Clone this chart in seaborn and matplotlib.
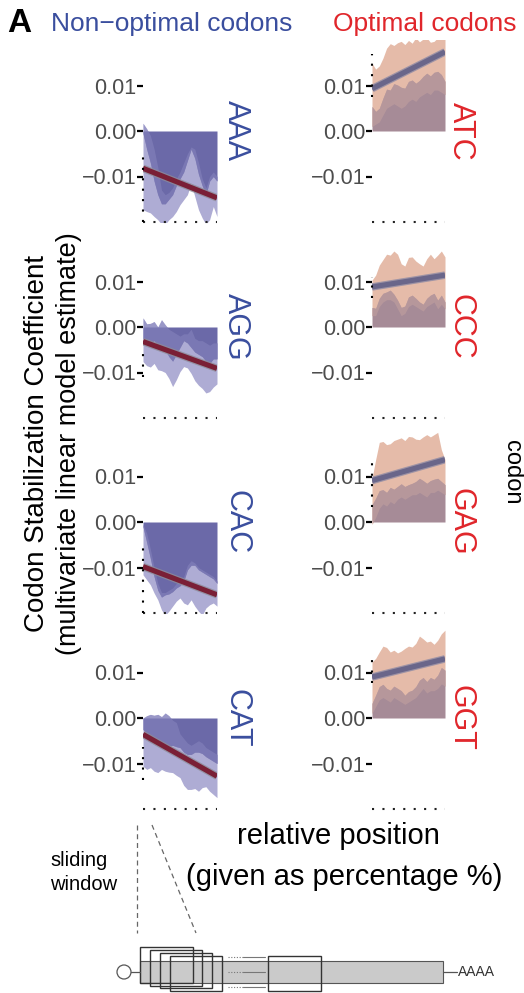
import numpy as np
import pandas as pd
import matplotlib
matplotlib.use("Agg")
import matplotlib.pyplot as plt
from matplotlib.patches import Rectangle, Circle
import seaborn as sns

sns.set_theme(style="white")
plt.rcParams['font.family'] = ['Liberation Sans', 'DejaVu Sans']

# ---------------- data (coefficients in units of 1e-3) ----------------
position_pct = [0, 5, 10, 15, 20, 25, 30, 35, 40, 45, 50, 55, 60, 65, 70, 75, 80, 85, 90, 95, 100]

codons_nonoptimal = ["AAA", "AGG", "CAC", "CAT"]
codons_optimal = ["ATC", "CCC", "GAG", "GGT"]

# outer = far edge of confidence band, inner = edge of estimate area, near = band edge nearest zero
aaa_outer = [-17.3, -17.7, -18.0, -18.8, -19.5, -20.5, -20.5, -19.5, -18.8, -17.7, -16.2, -15.1, -14.0, -11.5, -14.4, -17.3, -19.1, -20.5, -19.5, -16.6, -18.8]
aaa_inner = [-0.5, -4.0, -7.0, -11.0, -14.0, -16.0, -16.0, -15.0, -14.0, -12.0, -10.5, -9.0, -6.5, -4.0, -6.0, -9.5, -12.0, -14.0, -11.0, -10.0, -11.0]
aaa_near = [1.7, 0.5, -1.0, -4.0, -8.0, -13.0, -14.0, -13.5, -12.5, -10.5, -9.0, -7.0, -5.0, -3.5, -4.0, -7.0, -10.5, -12.5, -10.0, -9.0, -10.0]

agg_outer = [-7.6, -8.5, -8.8, -8.0, -9.4, -9.6, -10.0, -11.3, -13.1, -11.6, -9.8, -8.7, -9.0, -10.2, -11.8, -12.8, -13.5, -14.5, -14.2, -13.2, -12.5]
agg_inner = [-2.5, -3.0, -3.5, -3.0, -4.0, -4.5, -5.0, -6.5, -7.5, -6.0, -4.5, -3.0, -3.5, -4.5, -5.5, -6.0, -6.5, -7.5, -8.0, -7.0, -7.0]
agg_near = [2.0, 0.7, 0.8, 1.2, 0.0, 1.6, 0.5, -0.5, -1.0, -1.5, -2.0, -1.5, -1.5, -0.5, -2.5, -3.0, -3.0, -3.5, -4.0, -3.5, -3.5]

cac_outer = [-11.6, -12.7, -13.8, -15.6, -17.1, -19.3, -20.5, -19.6, -18.5, -17.4, -16.7, -17.8, -18.2, -17.1, -18.5, -19.6, -20.5, -18.9, -18.2, -17.8, -18.5]
cac_inner = [-1.0, -4.5, -8.0, -12.0, -15.0, -16.5, -16.0, -15.8, -15.3, -14.5, -14.0, -13.0, -10.5, -9.5, -9.5, -10.5, -11.0, -11.5, -12.0, -12.5, -13.5]
cac_near = [-0.5, -2.5, -6.0, -10.0, -13.5, -15.5, -15.5, -15.0, -14.5, -13.5, -13.0, -12.0, -9.5, -8.5, -9.0, -10.0, -10.5, -11.0, -11.5, -12.0, -13.0]

cat_outer = [-10.6, -11.3, -10.9, -11.7, -12.0, -11.3, -11.7, -11.9, -12.0, -12.6, -13.1, -14.8, -15.7, -15.7, -15.5, -16.1, -15.3, -15.1, -16.1, -16.8, -17.5]
cat_inner = [-2.5, -3.5, -4.2, -4.8, -5.5, -6.0, -6.5, -6.2, -6.0, -6.3, -6.5, -7.5, -8.0, -8.0, -7.5, -7.5, -7.8, -8.5, -9.0, -9.5, -10.0]
cat_near = [0.0, 0.5, 0.8, 0.6, 0.8, 0.3, 1.1, 0.5, -0.5, -1.0, -3.5, -4.5, -5.5, -6.0, -5.5, -5.0, -5.5, -6.5, -7.0, -7.5, -8.0]

atc_outer = [14.9, 13.6, 14.3, 16.0, 18.2, 19.2, 18.8, 19.4, 19.7, 19.0, 19.9, 19.3, 20.5, 19.6, 20.2, 20.5, 19.5, 19.7, 20.5, 20.5, 20.5]
atc_inner = [5.4, 4.3, 5.0, 7.2, 9.2, 9.0, 10.4, 10.1, 9.6, 9.4, 10.9, 11.2, 10.5, 11.1, 12.0, 12.7, 12.1, 12.9, 13.1, 12.4, 10.9]
atc_near = [1.0, 1.5, 2.0, 3.5, 5.0, 5.5, 6.0, 5.5, 5.0, 5.5, 6.5, 7.0, 6.5, 7.5, 8.0, 8.5, 8.0, 9.0, 9.0, 8.5, 8.0]

ccc_outer = [10.3, 11.4, 13.6, 14.8, 16.0, 15.8, 16.7, 16.0, 13.9, 13.4, 15.3, 15.4, 14.5, 13.9, 13.4, 15.0, 16.0, 15.0, 15.8, 16.7, 15.4]
ccc_inner = [4.3, 4.1, 6.3, 7.4, 7.7, 8.1, 7.2, 5.9, 4.3, 4.6, 6.6, 7.0, 6.3, 5.5, 5.0, 6.3, 7.0, 7.4, 5.9, 7.0, 5.5]
ccc_near = [2.5, 2.5, 4.5, 5.5, 6.0, 6.0, 5.5, 4.0, 2.5, 3.0, 4.5, 5.0, 4.5, 4.0, 3.5, 4.5, 5.0, 5.5, 4.0, 5.0, 4.0]

gag_outer = [9.6, 13.7, 17.5, 17.7, 17.0, 17.2, 17.9, 18.2, 18.5, 17.9, 18.8, 18.7, 18.2, 18.1, 18.7, 19.2, 18.7, 19.2, 19.7, 15.9, 13.7]
gag_inner = [3.8, 5.2, 6.9, 7.1, 6.5, 7.6, 7.2, 7.8, 8.4, 7.8, 8.2, 8.5, 8.9, 9.6, 9.1, 8.5, 9.1, 9.4, 9.6, 8.9, 8.2]
gag_near = [-0.5, 1.0, 3.0, 4.0, 3.5, 4.5, 4.0, 5.0, 5.5, 5.0, 5.5, 6.0, 6.0, 6.5, 6.0, 5.5, 6.5, 6.5, 7.0, 6.5, 6.0]

ggt_outer = [12.3, 13.1, 14.5, 15.8, 15.5, 14.5, 14.9, 14.3, 14.7, 15.3, 15.8, 15.6, 16.4, 18.0, 17.4, 16.7, 16.9, 16.2, 17.1, 18.5, 19.3]
ggt_inner = [3.2, 5.0, 6.9, 7.4, 6.5, 6.1, 7.0, 6.5, 6.0, 5.0, 5.8, 6.1, 6.9, 8.3, 8.9, 8.0, 8.9, 8.5, 9.4, 11.1, 10.5]
ggt_near = [1.0, 2.5, 4.0, 4.5, 4.0, 3.5, 4.5, 4.0, 3.5, 3.0, 3.5, 4.0, 4.5, 5.5, 6.5, 5.5, 6.0, 6.0, 6.5, 7.5, 7.0]

# linear fit (start / end of position range), same codon order as panel_codons
panel_codons = ["AAA", "AGG", "CAC", "CAT", "ATC", "CCC", "GAG", "GGT"]
fit_start = [-8.2, -3.2, -9.8, -3.6, 9.3, 8.8, 9.1, 9.0]
fit_end = [-14.7, -9.1, -16.0, -12.8, 17.4, 11.4, 13.7, 13.0]
# y range of the range-frame axis line
frame_lo = [-20.0, -11.0, -20.0, -13.6, 7.5, 6.4, 3.3, 7.7]
frame_hi = [-4.8, -6.0, -5.7, -6.4, 17.0, 11.0, 13.0, 14.5]

y_ticks = [-0.01, 0.0, 0.01]
y_ticklabels = ["\u22120.01", "0.00", "0.01"]

series = {
    "AAA": (aaa_outer, aaa_inner, aaa_near), "AGG": (agg_outer, agg_inner, agg_near),
    "CAC": (cac_outer, cac_inner, cac_near), "CAT": (cat_outer, cat_inner, cat_near),
    "ATC": (atc_outer, atc_inner, atc_near), "CCC": (ccc_outer, ccc_inner, ccc_near),
    "GAG": (gag_outer, gag_inner, gag_near), "GGT": (ggt_outer, ggt_inner, ggt_near),
}

# ---------------- styling ----------------
W, H = 524, 993
fig = plt.figure(figsize=(W / 100, H / 100), dpi=100)

BLUE = "#3A4E9E"
RED = "#E0262B"
TICKC = "#4D4D4D"

over = fig.add_axes([0, 0, 1, 1])
over.set_xlim(0, W)
over.set_ylim(H, 0)
over.axis("off")
over.patch.set_alpha(0)

col_left = {0: 143, 1: 372}
col_width = {0: 74, 1: 73}
row_top = [40, 236, 431, 627]
panel_h = 182

for i, codon in enumerate(panel_codons):
    col = 0 if codon in codons_nonoptimal else 1
    row = (codons_nonoptimal if col == 0 else codons_optimal).index(codon)
    x0 = col_left[col]
    top = row_top[row]
    ax = fig.add_axes([x0 / W, 1 - (top + panel_h) / H, col_width[col] / W, panel_h / H])
    outer, inner, near = series[codon]
    df = pd.DataFrame({"position": position_pct,
                       "outer": np.array(outer) * 1e-3,
                       "inner": np.array(inner) * 1e-3,
                       "near": np.array(near) * 1e-3})
    if col == 0:
        rib_c, area_c, mid_c = "#AEACD4", "#6B69A8", "#8886BE"
        line_c, band_c = "#7A1F36", "#8E8C98"
    else:
        rib_c, area_c, mid_c = "#E5BBA9", "#A68B97", "#C4A2A0"
        line_c, band_c = "#6A668A", "#8C89A4"
    # confidence band, then estimate area on top, band edge overlapping area drawn as mid tone
    ax.fill_between(df["position"], df["near"], df["outer"], color=rib_c, lw=0, zorder=1)
    ax.fill_between(df["position"], 0, df["inner"], color=area_c, lw=0, zorder=2)
    ax.fill_between(df["position"], df["near"], df["inner"], color=mid_c, lw=0, zorder=2.5,
                    alpha=0.55)

    fit = pd.DataFrame({"position": [position_pct[0], position_pct[-1]],
                        "estimate": [fit_start[i] * 1e-3, fit_end[i] * 1e-3]})
    sns.lineplot(data=fit, x="position", y="estimate", ax=ax, color=band_c, lw=5.4,
                 alpha=0.8, zorder=3, solid_capstyle="butt")
    sns.lineplot(data=fit, x="position", y="estimate", ax=ax, color=line_c, lw=3.7,
                 zorder=4, solid_capstyle="butt")

    ax.set_xlim(0, 100)
    ax.set_ylim(-0.02, 0.02)
    ax.set_facecolor("none")
    ax.set_xlabel("")
    ax.set_ylabel("")
    ax.set_xticks([])
    ax.set_yticks(y_ticks)
    ax.set_yticklabels(y_ticklabels)
    ax.tick_params(axis="y", which="both", left=True, length=4.5, width=1.6, color="black",
                   pad=0.3, labelsize=15.5, labelcolor=TICKC)
    for s in ["top", "right"]:
        ax.spines[s].set_visible(False)
    ax.spines["left"].set_bounds(frame_lo[i] * 1e-3, frame_hi[i] * 1e-3)
    ax.spines["left"].set_linestyle((0, (1, 4)))
    ax.spines["left"].set_linewidth(1.5)
    ax.spines["left"].set_color("black")
    ax.spines["left"].set_zorder(5)
    ax.spines["left"].set_capstyle("butt")
    ax.spines["bottom"].set_linestyle((0, (1, 4)))
    ax.spines["bottom"].set_linewidth(1.5)
    ax.spines["bottom"].set_color("#222222")
    ax.spines["bottom"].set_capstyle("butt")

    # strip label
    strip_x = 236 if col == 0 else 461
    over.text(strip_x, top + panel_h / 2, codon, rotation=-90, ha="center", va="center",
              fontsize=22, color=BLUE if col == 0 else RED)

# titles
over.text(7, 24, "A", fontsize=24, fontweight="bold", ha="left", va="center", color="black")
over.text(172, 24, "Non\u2212optimal codons", fontsize=19, ha="center", va="center", color=BLUE)
over.text(425, 24, "Optimal codons", fontsize=19, ha="center", va="center", color=RED)

# axis titles
over.text(37, 444, "Codon Stabilization Coefficient", rotation=90, fontsize=20,
          ha="center", va="center", color="black")
over.text(69, 444, "(multivariate linear model estimate)", rotation=90, fontsize=19.5,
          ha="center", va="center", color="black")
over.text(512, 472, "codon", rotation=-90, fontsize=17, ha="center", va="center", color="black")
over.text(338, 836, "relative position", fontsize=21, ha="center", va="center", color="black")
over.text(344, 877, "(given as percentage %)", fontsize=21, ha="center", va="center", color="black")
over.text(50, 861, "sliding", fontsize=14.5, ha="left", va="center", color="black")
over.text(50, 885, "window", fontsize=14.5, ha="left", va="center", color="black")

# schematic of sliding window along a transcript
over.plot([137, 137], [825, 933], color="#666666", lw=0.9, ls=(0, (4, 3)))
over.plot([152, 196], [825, 933], color="#666666", lw=0.9, ls=(0, (4, 3)))
over.add_patch(Rectangle((140, 961), 303, 22, facecolor="#CACACA", edgecolor="#555555", lw=0.8))
over.plot([131, 140], [972, 972], color="#555555", lw=0.9)
over.plot([443, 457], [972, 972], color="#555555", lw=0.9)
over.add_patch(Circle((124, 972), 7, facecolor="white", edgecolor="#555555", lw=0.9))
over.text(458, 972, "AAAA", fontsize=10, ha="left", va="center", color="#333333")
for (rx, ry, rw, rh) in [(140, 947, 53, 36), (150, 950, 52, 36), (160, 953, 52, 35),
                         (170, 956, 52, 35), (268, 956, 53, 35)]:
    over.add_patch(Rectangle((rx, ry), rw, rh, facecolor="none", edgecolor="#333333", lw=1.0))
for yy in [957, 972, 987]:
    over.plot([228, 243], [yy, yy], color="#777777", lw=0.8, ls=(0, (1, 1.5)))
    over.plot([243, 265], [yy, yy], color="#777777", lw=0.8)

fig.savefig("out.png", dpi=100)
